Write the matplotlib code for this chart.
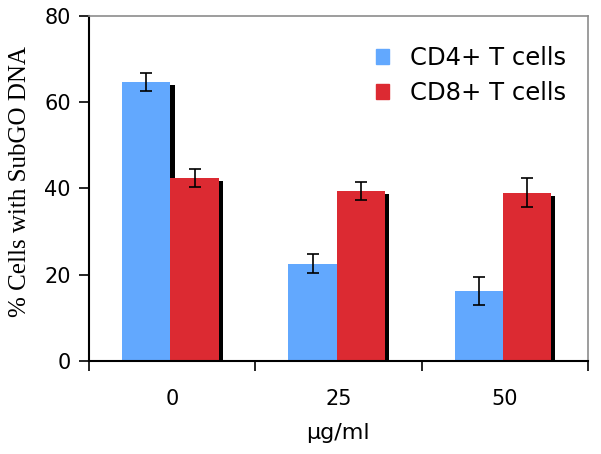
import numpy as np
import matplotlib.pyplot as plt
from matplotlib.patches import Patch

doses = ['0', '25', '50']
cd4 = [64.7, 22.5, 16.2]
cd4_err = [2.1, 2.2, 3.2]
cd8 = [42.4, 39.4, 39.0]
cd8_err = [2.0, 2.2, 3.4]

blue = '#62a8fe'
red = '#dc2a32'

fig = plt.figure(figsize=(6.01, 4.54), dpi=100)
ax = fig.add_axes([0.148, 0.205, 0.830, 0.760])

x = np.arange(len(doses)) - 0.01
w = 0.29
# shadow to the right of each bar, shifted down a little
dx = 0.025
dy = 0.7
ax.bar(x - w/2 + dx, np.array(cd4) - dy, w, color='black', zorder=1)
ax.bar(x + w/2 + dx, np.array(cd8) - dy, w, color='black', zorder=1)
ax.bar(x - w/2, cd4, w, color=blue, zorder=2)
ax.bar(x + w/2, cd8, w, color=red, zorder=2)
ax.errorbar(x - w/2, cd4, yerr=cd4_err, fmt='none', ecolor='black',
            elinewidth=1.2, capsize=4.5, capthick=1.2, zorder=3)
ax.errorbar(x + w/2, cd8, yerr=cd8_err, fmt='none', ecolor='black',
            elinewidth=1.2, capsize=4.5, capthick=1.2, zorder=3)

ax.set_xlim(-0.5, 2.5)
ax.set_ylim(0, 80)
ax.set_yticks([0, 20, 40, 60, 80])
ax.set_xticks([-0.5, 0.5, 1.5, 2.5])
ax.set_xticklabels([])
ax.set_xticks(np.arange(len(doses)), minor=True)
ax.set_xticklabels(doses, minor=True)
ax.tick_params(axis='x', which='minor', length=0, pad=20, labelsize=15)
ax.tick_params(axis='x', which='major', direction='out', length=7, width=1.2)
ax.tick_params(axis='y', direction='out', length=7, width=1.2, labelsize=15, pad=6)

for s in ['top', 'right']:
    ax.spines[s].set_color('#8c8c8c')
    ax.spines[s].set_linewidth(1.2)
for s in ['left', 'bottom']:
    ax.spines[s].set_color('black')
    ax.spines[s].set_linewidth(1.5)

ax.set_xlabel('\u03bcg/ml', fontsize=16, labelpad=10)
ax.set_ylabel('% Cells with SubGO DNA', fontsize=18,
              family='Liberation Serif')
ax.yaxis.set_label_coords(-0.116, 0.52)

handles = [Patch(color=blue, label='CD4+ T cells'),
           Patch(color=red, label='CD8+ T cells')]
ax.legend(handles=handles, loc='upper right', frameon=False, fontsize=17.5,
          handlelength=0.55, handleheight=0.55, handletextpad=0.85,
          labelspacing=0.45, bbox_to_anchor=(1.0, 0.975))

fig.savefig('out.png', dpi=100)
